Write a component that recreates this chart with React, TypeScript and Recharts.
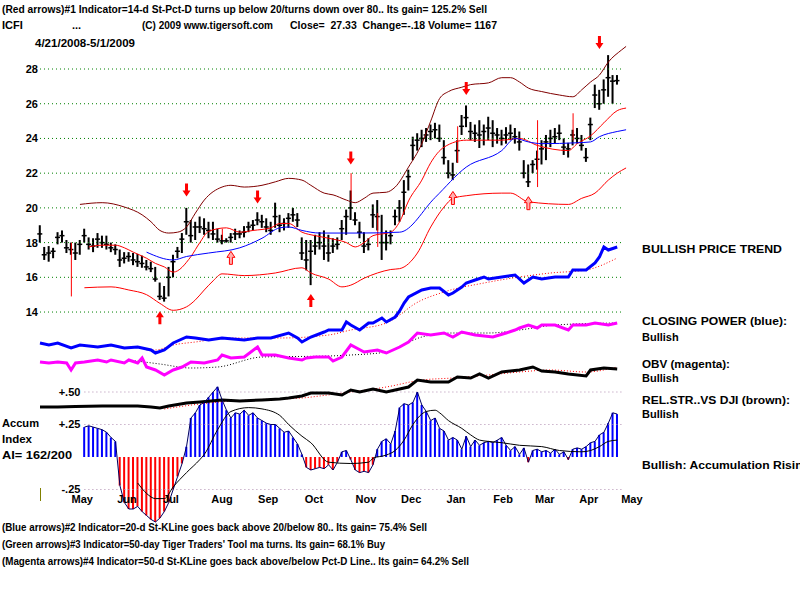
import React from "react";
import { ComposedChart, Bar, Line, XAxis, YAxis, ReferenceLine } from "recharts";

// ICFI 4/21/2008 - 5/1/2009, one point every second trading day (k = 0..130)
const hi = [
  19.0, 17.75, 17.8, 17.7, 18.6, 18.7, 18.15, 18.0, 18.0, 18.15,
  18.8, 18.3, 18.25, 18.55, 18.4, 18.4, 18.0, 17.9, 17.6, 17.45,
  17.45, 17.4, 17.35, 17.25, 17.0, 16.9, 16.6, 15.7, 15.5, 16.6,
  17.3, 17.75, 18.55, 20.0, 19.3, 19.2, 19.5, 19.4, 19.2, 19.2,
  18.8, 18.45, 18.25, 18.55, 18.8, 18.7, 18.95, 19.2, 19.3, 19.75,
  19.6, 19.4, 19.2, 20.3, 19.6, 19.4, 19.7, 20.0, 19.7, 18.3,
  18.15, 18.15, 18.45, 18.6, 18.7, 18.45, 18.25, 18.3, 19.3, 19.9,
  21.0, 19.75, 19.2, 18.6, 18.25, 20.2, 20.45, 19.6, 18.7, 18.7,
  19.9, 20.45, 21.6, 22.2, 24.1, 24.3, 24.5, 24.6, 24.8, 24.9,
  24.8, 23.9, 22.75, 22.6, 23.9, 25.35, 25.9, 24.95, 24.8, 25.05,
  24.8, 25.25, 25.05, 24.6, 24.5, 24.65, 24.8, 24.6, 24.4, 22.75,
  22.5, 22.75, 23.3, 23.9, 24.2, 24.5, 24.6, 24.8, 24.0, 23.75,
  24.5, 24.6, 24.2, 23.45, 25.2, 27.1, 26.8, 27.4, 28.8, 27.65,
  27.65,
];
const lo = [
  18.0, 17.0, 16.9, 17.1, 17.9, 18.0, 17.4, 17.3, 17.0, 17.3,
  18.0, 17.6, 17.45, 17.7, 17.7, 17.6, 17.45, 17.3, 16.6, 16.8,
  16.9, 16.7, 16.6, 16.55, 16.4, 16.3, 15.75, 14.7, 14.6, 14.9,
  16.0, 17.1, 17.4, 18.45, 18.0, 18.15, 18.55, 18.45, 18.25, 18.15,
  18.0, 17.9, 18.0, 18.0, 18.15, 18.25, 18.3, 18.6, 18.7, 19.0,
  18.85, 18.6, 18.45, 18.85, 18.6, 18.7, 18.85, 19.2, 18.9, 17.0,
  16.4, 15.55, 17.3, 17.6, 17.0, 16.9, 17.4, 17.6, 18.15, 18.45,
  19.3, 19.0, 18.25, 17.4, 17.55, 18.85, 18.7, 17.0, 17.55, 17.9,
  19.0, 19.2, 19.6, 21.0, 22.75, 23.3, 23.5, 23.8, 23.9, 24.0,
  23.8, 22.5, 21.7, 21.6, 22.6, 24.2, 24.65, 23.9, 23.8, 23.45,
  23.6, 23.9, 23.5, 23.7, 23.6, 23.7, 23.9, 23.7, 23.3, 21.7,
  21.2, 22.0, 22.2, 22.5, 22.75, 23.5, 23.7, 23.9, 23.05, 22.9,
  23.6, 23.7, 23.3, 22.65, 23.9, 25.75, 25.65, 26.0, 26.4, 26.0,
  27.1,
];
const cl = [
  18.5, 17.3, 17.4, 17.5, 18.3, 18.4, 17.7, 17.6, 17.4, 17.9,
  18.4, 17.9, 17.8, 18.2, 18.0, 17.9, 17.7, 17.6, 17.0, 17.1,
  17.2, 17.0, 16.9, 16.8, 16.6, 16.5, 15.9, 14.9, 14.8, 16.0,
  16.9, 17.5, 18.2, 19.2, 18.4, 18.9, 18.9, 18.8, 18.7, 18.5,
  18.2, 18.1, 18.1, 18.3, 18.5, 18.5, 18.6, 18.9, 19.0, 19.3,
  19.2, 18.9, 18.7, 19.5, 19.0, 19.1, 19.4, 19.6, 19.3, 17.4,
  17.0, 17.5, 17.8, 18.0, 17.8, 17.4, 17.8, 17.9, 18.8, 19.5,
  20.0, 19.3, 18.6, 17.8, 17.9, 19.6, 19.5, 18.0, 18.0, 18.4,
  19.5, 20.0, 20.9, 21.8, 23.6, 23.9, 24.0, 24.2, 24.4, 24.5,
  24.0, 22.9, 22.0, 21.9, 23.3, 24.7, 25.2, 24.4, 24.3, 24.2,
  24.4, 24.6, 24.3, 24.2, 24.0, 24.2, 24.3, 24.1, 23.8, 22.0,
  21.5, 22.5, 22.8, 23.4, 23.8, 24.0, 24.1, 24.3, 23.5, 23.4,
  24.2, 24.0, 23.6, 22.9, 24.8, 26.5, 26.0, 26.8, 27.5, 27.3,
  27.33,
];
// accumulation index
const accum = [
  null, null, null, null, null, null, null, null, null, null,
  0.23, 0.24, 0.23, 0.22, 0.21, 0.19, 0.15, 0.12, -0.22, -0.35,
  -0.4, -0.4, -0.38, -0.42, -0.45, -0.48, -0.5, -0.47, -0.42, -0.35,
  -0.25, -0.15, -0.05, 0.08, 0.3, 0.34, 0.4, 0.42, 0.46, 0.5,
  0.54, 0.44, 0.36, 0.3, 0.34, 0.33, 0.36, 0.32, 0.34, 0.3,
  0.28, 0.26, 0.25, 0.25, 0.22, 0.19, 0.2, 0.15, 0.1, 0.02,
  -0.08, -0.1, -0.09, -0.08, -0.09, -0.06, -0.1, -0.04, 0.04, 0.05,
  -0.02, -0.1, -0.12, -0.11, -0.12, -0.06, 0.06, 0.12, 0.14, 0.1,
  0.2, 0.38, 0.41, 0.4, 0.42, 0.5, 0.4, 0.35, 0.28, 0.3,
  0.22, 0.2, 0.13, 0.15, 0.13, 0.06, 0.16, 0.08, 0.13, 0.09,
  0.11, 0.12, 0.11, 0.13, 0.15, 0.09, 0.05, 0.08, 0.02, 0.07,
  -0.04, 0.05, 0.06, 0.04, 0.05, 0.03, 0.06, 0.02, 0.04, -0.02,
  0.06, 0.07, 0.06, 0.08, 0.11, 0.12, 0.17, 0.19, 0.26, 0.34,
  0.33,
];

// smoother lines, read at [k, value]
const upperBand = [
  [9, 20.2], [14, 20.3], [19, 20.05], [23, 19.6], [25, 19.2], [27, 18.7], [29, 18.55], [31, 18.6],
  [33, 18.9], [35, 19.7], [37, 20.45], [41, 21.2], [43, 21.3], [46, 21.2], [50, 21.3], [53, 21.5],
  [56, 21.7], [59, 21.6], [61, 21.3], [64, 20.85], [66, 20.75], [69, 20.45], [71, 20.3], [73, 20.55],
  [75, 20.85], [78, 20.9], [80, 21.2], [83, 22.35], [86, 23.7], [88, 25.0], [90, 26.3], [92, 26.7],
  [95, 26.95], [97, 27.1], [101, 27.2], [104, 27.5], [106, 27.5], [108, 27.25], [110, 26.9], [113, 26.7],
  [117, 26.5], [120, 26.4], [122, 26.8], [124, 27.25], [126, 27.65], [128, 28.4], [131, 29.1], [132, 29.3],
];
const midBand = [
  [11, 17.75], [14, 17.85], [17, 17.85], [19, 17.7], [21, 17.45], [24, 17.1], [26, 16.8], [28, 16.6],
  [30, 16.3], [34, 17.2], [36, 18.0], [38, 18.65], [42, 18.85], [45, 18.6], [48, 18.7], [52, 18.85],
  [54, 19.1], [56, 19.1], [59, 18.6], [62, 18.4], [65, 18.25], [69, 18.0], [71, 17.75], [73, 18.0],
  [75, 18.4], [79, 18.6], [81, 19.2], [83, 20.4], [86, 21.6], [88, 22.6], [91, 23.5], [96, 23.9],
  [104, 23.9], [108, 24.0], [112, 23.6], [119, 23.3], [121, 23.7], [124, 24.15], [127, 24.9], [130, 25.6],
  [132, 25.75],
];
const lowerBand = [
  [10, 15.4], [16, 15.45], [20, 15.27], [24, 15.0], [27, 14.5], [30, 14.1], [33, 14.3], [35, 14.7],
  [37, 15.27], [39, 15.8], [41, 16.2], [46, 16.1], [53, 16.25], [59, 16.55], [61, 16.25], [65, 15.9],
  [68, 15.45], [70, 15.55], [73, 15.95], [76, 16.25], [79, 16.45], [81, 16.5], [85, 17.4], [88, 18.9],
  [91, 20.05], [93, 20.55], [96, 20.7], [104, 20.85], [106, 20.85], [110, 20.35], [119, 20.2], [122, 20.55],
  [125, 20.85], [128, 21.6], [130, 22.0], [132, 22.3],
];
const ma50 = [
  [24, 17.45], [30, 17.0], [33, 17.2], [38, 17.4], [45, 17.7], [50, 18.25], [54, 18.85], [56, 18.9],
  [59, 18.7], [63, 18.55], [72, 18.55], [81, 18.6], [89, 20.6], [96, 22.35], [104, 23.3], [107, 24.0],
  [110, 23.8], [113, 23.7], [121, 23.75], [124, 23.8], [126, 24.1], [130, 24.4], [132, 24.5],
];
const closingPower = [
  [0, 0.2], [2, 0.0], [4, 0.2], [7, -0.3], [9, 0.0], [13, -0.2], [16, 0.0], [19, -0.3], [22, -0.2],
  [25, -0.5], [26, -0.8], [28, -0.5], [30, 0.2], [33, 0.8], [35, 0.7], [38, 0.5], [41, 0.7], [46, 0.5],
  [49, 0.7], [52, 0.7], [56, 1.2], [58, 0.7], [59, 0.3], [61, 0.8], [64, 1.3], [65, 1.5], [68, 1.5],
  [69, 2.3], [70, 2.0], [72, 1.5], [74, 2.2], [75, 2.2], [77, 2.7], [78, 2.3], [80, 2.8], [81, 3.4],
  [82, 4.2], [83, 4.8], [86, 5.5], [88, 5.7], [90, 5.7], [92, 5.0], [93, 5.2], [95, 5.8], [96, 6.2],
  [98, 6.5], [100, 6.8], [101, 6.6], [104, 6.8], [107, 7.0], [109, 6.2], [111, 6.8], [113, 6.6],
  [116, 6.8], [119, 6.8], [120, 7.5], [123, 7.5], [125, 8.2], [126, 8.8], [127, 9.8], [128, 9.5], [130, 9.8],
];
const closingPowerMa = [
  [24, -0.5], [26, -0.5], [30, 0.0], [35, 0.3], [43, 0.7], [54, 0.7], [65, 1.0], [70, 1.5], [78, 2.2],
  [81, 3.0], [84, 4.0], [91, 5.3], [100, 6.2], [108, 6.8], [115, 7.2], [123, 7.5], [130, 8.7],
];
const obv = [
  [0, 0.8], [2, 0.7], [4, 0.8], [6, 0.7], [7, 0.0], [8, 0.7], [10, 0.8], [13, 1.0], [15, 0.8], [16, 1.0],
  [19, 0.7], [20, 1.0], [22, 0.7], [23, 1.2], [24, 0.3], [26, 0.0], [28, -0.5], [30, 0.0], [32, 0.3],
  [34, 0.8], [37, 0.7], [40, 1.0], [41, 1.5], [43, 1.2], [46, 1.3], [49, 2.3], [50, 1.5], [53, 1.5],
  [56, 1.2], [59, 1.0], [60, 1.2], [62, 1.3], [65, 1.3], [66, 0.9], [68, 1.3], [70, 2.5], [73, 1.8],
  [76, 2.0], [78, 1.7], [81, 2.3], [83, 2.8], [85, 3.7], [88, 3.5], [91, 3.7], [93, 3.3], [95, 3.8],
  [98, 3.5], [102, 3.3], [105, 3.7], [107, 4.0], [108, 4.2], [110, 4.5], [112, 4.2], [113, 4.5],
  [116, 4.5], [119, 4.0], [120, 4.5], [123, 4.5], [125, 4.7], [128, 4.5], [130, 4.7],
];
const obvMa = [
  [20, 1.0], [27, 0.6], [34, 0.2], [40, 0.3], [50, 1.3], [65, 1.4], [70, 1.5], [78, 1.8], [86, 3.3],
  [93, 3.7], [101, 3.7], [108, 4.0], [116, 4.5], [130, 4.7],
];
const relStr = [
  [0, 0.3], [4, 0.3], [8, 0.35], [14, 0.4], [22, 0.4], [25, 0.3], [27, 0.2], [29, 0.4], [33, 0.7],
  [36, 0.8], [41, 1.0], [45, 0.9], [50, 1.0], [54, 1.1], [56, 1.2], [59, 1.4], [61, 1.7], [65, 1.7],
  [68, 1.5], [70, 2.0], [72, 1.8], [75, 2.1], [78, 1.8], [83, 2.3], [85, 3.0], [88, 2.8], [92, 2.8],
  [94, 3.3], [97, 3.2], [99, 3.6], [101, 3.2], [104, 3.8], [108, 4.0], [111, 4.3], [113, 3.9],
  [116, 3.8], [119, 3.6], [123, 3.4], [124, 4.0], [127, 4.2], [130, 4.1],
];
const relStrMa = [
  [28, 0.1], [36, 0.6], [47, 1.0], [59, 1.2], [63, 1.4], [70, 1.8], [78, 2.3], [86, 3.0], [93, 3.2],
  [101, 3.5], [108, 3.8], [115, 4.0], [123, 3.8], [130, 4.3],
];
const accumMa = [
  [22, -0.2], [24, -0.28], [26, -0.32], [28, -0.32], [30, -0.23], [33, -0.12], [36, -0.02], [37, 0.02],
  [40, 0.21], [43, 0.35], [47, 0.38], [50, 0.37], [54, 0.32], [56, 0.25], [59, 0.16], [61, 0.11],
  [65, -0.04], [70, -0.05], [74, -0.04], [75, -0.01], [78, 0.015], [80, 0.05], [82, 0.13], [84, 0.25],
  [87, 0.35], [89, 0.36], [90, 0.34], [92, 0.28], [95, 0.22], [97, 0.17], [99, 0.13], [101, 0.12],
  [104, 0.11], [108, 0.09], [113, 0.08], [117, 0.05], [122, 0.04], [124, 0.05], [126, 0.08], [128, 0.12],
  [130, 0.13],
];
// signal marks
const redSpikes = [[7, 14.9, 18.0], [41, 18.15, 18.8], [70, 20.45, 22.0], [76, 17.75, 19.7], [94, 22.6, 24.7], [112, 21.2, 25.05], [120, 23.9, 25.45]];
const sellArrows = [[33, 21.0], [49, 20.6], [70, 22.85], [96, 26.85], [126, 29.5]];
const buyArrows = [[27, 13.7], [61, 14.7]];
const buyArrowsHollow = [[43, 17.15], [93, 20.6], [110, 20.3]];

const priceTicks = [14, 16, 18, 20, 22, 24, 26, 28];
const accumLevels = [0.5, 0.25, -0.25];
const accumLabels = ["+.50", "+.25", "-.25"];
const monthTicks = [9.5, 19.6, 29.5, 41, 51.4, 61.7, 73.4, 83.6, 93.7, 104.3, 113.7, 123.6, 133.3];
const monthNames = ["May", "Jun", "Jul", "Aug", "Sep", "Oct", "Nov", "Dec", "Jan", "Feb", "Mar", "Apr", "May"];

const F = "'Liberation Sans', Arial, sans-serif";
const LAST = 132;

function lookup(pairs: number[][]) {
  const m = new Map<number, number>();
  pairs.forEach((p) => m.set(p[0], p[1]));
  return (k: number) => (m.has(k) ? m.get(k) : null);
}

const ub = lookup(upperBand), mb = lookup(midBand), lb = lookup(lowerBand), m50 = lookup(ma50);
const cp = lookup(closingPower), cpm = lookup(closingPowerMa);
const ob = lookup(obv), obm = lookup(obvMa), rs = lookup(relStr), rsm = lookup(relStrMa);
const aim = lookup(accumMa);
const dn = lookup(sellArrows), up = lookup(buyArrows), uph = lookup(buyArrowsHollow);
const spikeMap = new Map(redSpikes.map((s) => [s[0], [s[1], s[2]]]));

const data: any[] = [];
for (let k = 0; k <= LAST; k++) {
  data.push({
    k,
    hi: hi[k] ?? null,
    lo: lo[k] ?? null,
    cl: cl[k] ?? null,
    rng: hi[k] != null ? [lo[k], hi[k]] : null,
    spike: spikeMap.get(k) ?? null,
    ai: accum[k] ?? null,
    ub: ub(k), mb: mb(k), lb: lb(k), m50: m50(k),
    cp: cp(k), cpm: cpm(k), ob: ob(k), obm: obm(k), rs: rs(k), rsm: rsm(k),
    aim: aim(k), dn: dn(k), up: up(k), uph: uph(k),
  });
}

// pixel calibration of the panels (whole 800x600 is the plot area)
const XDOM = [-40 / 4.44, 760 / 4.44];
const PDOM = [28 - 531 / 17.36, 28 + 69 / 17.36];
const ADOM = [-143 / 130, 457 / 130];
const CPDOM = [-25.5, 34.5];
const OBDOM = [-23, 37];
const RSDOM = [-19, 41];

function PriceBar(props: any) {
  const { x, y, width, height, payload } = props;
  if (!payload || payload.hi == null || height == null) return <g />;
  const top = height < 0 ? y + height : y;
  const h = Math.abs(height);
  const cy = top + (h * (payload.hi - payload.cl)) / (payload.hi - payload.lo || 1);
  const cx = x + width / 2;
  return (
    <g>
      <rect x={x} y={top} width={width} height={Math.max(h, 1)} fill="#000" />
      <line x1={cx - 2.5} x2={cx + 2.5} y1={cy} y2={cy} stroke="#000" strokeWidth={1.5} />
    </g>
  );
}

function SpikeBar(props: any) {
  const { x, y, width, height, payload } = props;
  if (!payload || !payload.spike) return <g />;
  const top = height < 0 ? y + height : y;
  return <rect x={x} y={top} width={width} height={Math.abs(height)} fill="#ff0000" />;
}

function AccumBar(props: any) {
  const { x, y, width, height, payload } = props;
  if (!payload || payload.ai == null) return <g />;
  const top = height < 0 ? y + height : y;
  return <rect x={x} y={top} width={width} height={Math.abs(height)} fill={payload.ai >= 0 ? "#0000ff" : "#ff0000"} />;
}

function arrow(dir: number, hollow: boolean) {
  return (props: any) => {
    const { cx, cy, value, index } = props;
    if (value == null || cx == null || cy == null || isNaN(cy)) return <g key={`a${dir}${index}`} />;
    const d = `M${cx - 1.5},${cy - 7 * dir} h3 v${7 * dir} h2.5 l-4,${6 * dir} l-4,${-6 * dir} h2.5 z`;
    return (
      <path
        key={`a${dir}${index}`}
        d={d}
        fill={hollow ? "#ffb0b0" : "#ff0000"}
        stroke={hollow ? "#ff0000" : "none"}
        strokeWidth={1}
      />
    );
  };
}

function MonthTick(props: any) {
  const { x, payload } = props;
  const i = monthTicks.indexOf(payload.value);
  return (
    <text x={x} y={503} textAnchor="middle" fontFamily={F} fontSize={11} fontWeight="bold" fill="#000">
      {monthNames[i]}
    </text>
  );
}

function Txt({ x, y, w, children }: any) {
  return (
    <text
      x={x}
      y={y}
      textLength={w}
      lengthAdjust={w ? "spacingAndGlyphs" : undefined}
      style={{ whiteSpace: "pre" }}
      fontFamily={F}
      fontSize={11}
      fontWeight="bold"
      fill="#000"
    >
      {children}
    </text>
  );
}

const labelStyle = { fill: "#000", fontSize: 11, fontWeight: "bold", fontFamily: F };
const lineBase = { xAxisId: "x", dot: false, activeDot: false, isAnimationActive: false } as any;

export default function App() {
  return (
    <div style={{ position: "absolute", left: 0, top: 0, width: 800, height: 600, background: "#fff" }}>
      <ComposedChart width={800} height={600} data={data} margin={{ top: 0, right: 0, bottom: -30, left: 0 }}>
        <XAxis xAxisId="x" dataKey="k" type="number" domain={XDOM} hide allowDataOverflow />
        <XAxis xAxisId="px" dataKey="k" type="number" domain={XDOM} hide allowDataOverflow />
        <XAxis xAxisId="sx" dataKey="k" type="number" domain={XDOM} hide allowDataOverflow />
        <XAxis xAxisId="ax" dataKey="k" type="number" domain={XDOM} hide allowDataOverflow />
        <XAxis
          xAxisId="m"
          dataKey="k"
          type="number"
          domain={XDOM}
          allowDataOverflow
          ticks={monthTicks}
          interval={0}
          tick={<MonthTick />}
          axisLine={false}
          tickLine={false}
          height={30}
        />
        <YAxis yAxisId="price" type="number" domain={PDOM} hide allowDataOverflow />
        <YAxis yAxisId="ai" type="number" domain={ADOM} hide allowDataOverflow />
        <YAxis yAxisId="cp" type="number" domain={CPDOM} hide allowDataOverflow />
        <YAxis yAxisId="ob" type="number" domain={OBDOM} hide allowDataOverflow />
        <YAxis yAxisId="rs" type="number" domain={RSDOM} hide allowDataOverflow />

        {priceTicks.map((v) => (
          <ReferenceLine
            key={`g${v}`}
            xAxisId="x"
            yAxisId="price"
            segment={[{ x: 0, y: v }, { x: 131.5, y: v }]}
            stroke="#008000"
            strokeDasharray="1 3"
            label={{ value: String(v), position: "left", offset: 2, ...labelStyle }}
          />
        ))}
        {accumLevels.map((v, i) => (
          <ReferenceLine
            key={`al${v}`}
            xAxisId="x"
            yAxisId="ai"
            segment={[{ x: 10, y: v }, { x: 131.5, y: v }]}
            stroke="#b08cb0"
            strokeDasharray="1 3"
            label={{ value: accumLabels[i], position: "left", offset: 4, ...labelStyle }}
          />
        ))}

        <Line {...lineBase} yAxisId="price" dataKey="ub" type="monotone" stroke="#800000" strokeWidth={1} connectNulls />
        <Line {...lineBase} yAxisId="price" dataKey="mb" type="monotone" stroke="#ff0000" strokeWidth={1} connectNulls />
        <Line {...lineBase} yAxisId="price" dataKey="lb" type="monotone" stroke="#ff0000" strokeWidth={1} connectNulls />
        <Line {...lineBase} yAxisId="price" dataKey="m50" type="monotone" stroke="#0000ff" strokeWidth={1} connectNulls />

        <Bar xAxisId="px" yAxisId="price" dataKey="rng" barSize={2} shape={<PriceBar />} isAnimationActive={false} />
        <Bar xAxisId="sx" yAxisId="price" dataKey="spike" barSize={1} shape={<SpikeBar />} isAnimationActive={false} />

        <Line xAxisId="x" yAxisId="price" dataKey="dn" stroke="none" dot={arrow(1, false)} activeDot={false} isAnimationActive={false} />
        <Line xAxisId="x" yAxisId="price" dataKey="up" stroke="none" dot={arrow(-1, false)} activeDot={false} isAnimationActive={false} />
        <Line xAxisId="x" yAxisId="price" dataKey="uph" stroke="none" dot={arrow(-1, true)} activeDot={false} isAnimationActive={false} />

        <Line {...lineBase} yAxisId="cp" dataKey="cpm" type="monotone" stroke="#ff0000" strokeWidth={1} strokeDasharray="1 2" connectNulls />
        <Line {...lineBase} yAxisId="cp" dataKey="cp" type="linear" stroke="#0000ff" strokeWidth={3} connectNulls />
        <Line {...lineBase} yAxisId="ob" dataKey="obm" type="monotone" stroke="#000" strokeWidth={1} strokeDasharray="1 2" connectNulls />
        <Line {...lineBase} yAxisId="ob" dataKey="ob" type="linear" stroke="#ff00ff" strokeWidth={3} connectNulls />
        <Line {...lineBase} yAxisId="rs" dataKey="rsm" type="monotone" stroke="#ff0000" strokeWidth={1} strokeDasharray="1 2" connectNulls />
        <Line {...lineBase} yAxisId="rs" dataKey="rs" type="linear" stroke="#000" strokeWidth={3} connectNulls />

        <Bar xAxisId="ax" yAxisId="ai" dataKey="ai" barSize={2} shape={<AccumBar />} isAnimationActive={false} />
        <Line {...lineBase} yAxisId="ai" dataKey="ai" type="linear" stroke="#000060" strokeWidth={1} />
        <Line {...lineBase} yAxisId="ai" dataKey="aim" type="monotone" stroke="#000" strokeWidth={1} connectNulls />
      </ComposedChart>

      <svg width={800} height={600} style={{ position: "absolute", left: 0, top: 0, pointerEvents: "none" }}>
        <Txt x={2} y={13} w={485}>(Red arrows)#1 Indicator=14-d St-Pct-D turns up below 20/turns down over 80.. Its gain= 125.2% Sell</Txt>
        <Txt x={2} y={29}>ICFI</Txt>
        <Txt x={72} y={29}>...</Txt>
        <Txt x={142} y={29} w={131}>(C) 2009 www.tigersoft.com</Txt>
        <Txt x={290} y={29} w={207}>{"Close=  27.33  Change=-.18 Volume= 1167"}</Txt>
        <Txt x={35} y={47} w={100}>4/21/2008-5/1/2009</Txt>

        <Txt x={642} y={253} w={140}>BULLISH PRICE TREND</Txt>
        <Txt x={642} y={325} w={145}>CLOSING POWER (blue):</Txt>
        <Txt x={642} y={341}>Bullish</Txt>
        <Txt x={642} y={368} w={88}>OBV (magenta):</Txt>
        <Txt x={642} y={382}>Bullish</Txt>
        <Txt x={642} y={404} w={148}>REL.STR..VS DJI (brown):</Txt>
        <Txt x={642} y={418}>Bullish</Txt>
        <Txt x={642} y={469} w={168}>Bullish: Accumulation Rising</Txt>

        <Txt x={2} y={427} w={37}>Accum</Txt>
        <Txt x={2} y={443} w={30}>Index</Txt>
        <Txt x={2} y={459} w={70}>AI= 162/200</Txt>
        <line x1={40.5} y1={488} x2={40.5} y2={501} stroke="#808000" />

        <Txt x={2} y={531} w={425}>(Blue arrows)#2 Indicator=20-d St-KLine goes back above 20/below 80.. Its gain= 75.4% Sell</Txt>
        <Txt x={2} y={548} w={383}>(Green arrows)#3 Indicator=50-day Tiger Traders' Tool ma turns. Its gain= 68.1% Buy</Txt>
        <Txt x={2} y={565} w={467}>(Magenta arrows)#4 Indicator=50-d St-KLine goes back above/below Pct-D Line.. Its gain= 64.2% Sell</Txt>
      </svg>
    </div>
  );
}
